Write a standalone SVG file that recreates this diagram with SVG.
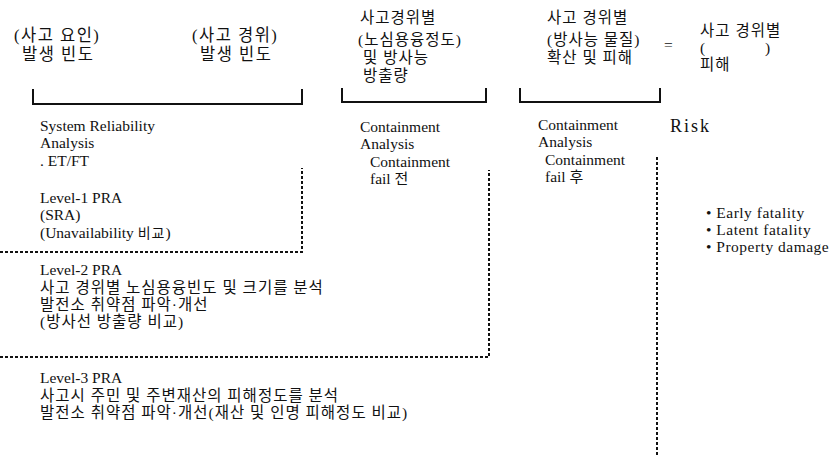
<svg xmlns="http://www.w3.org/2000/svg" width="840" height="457" viewBox="0 0 840 457">
<style>
.k{font-family:"Liberation Serif","Noto Sans CJK KR",serif;font-size:15.5px;fill:#111;letter-spacing:1px}
.h{font-family:"Liberation Serif","Noto Sans CJK KR",serif;font-size:16.5px;fill:#111;letter-spacing:1.5px}
.t{font-family:"Liberation Serif","Noto Sans CJK KR",serif;font-size:15.5px;fill:#111}
.r{font-family:"Liberation Serif","Noto Sans CJK KR",serif;font-size:18px;fill:#111;letter-spacing:2px}
.u{font-family:"Liberation Serif","Noto Sans CJK KR",serif;font-size:15.5px;fill:#111;letter-spacing:0.5px}
.b{fill:none;stroke:#111;stroke-width:2}
.d{fill:none;stroke:#111;stroke-width:2;stroke-dasharray:3 2}
</style>
<rect width="840" height="457" fill="#fff"/>
<g id="header1">
<text class="h" x="14" y="41">(사고 요인)</text>
<text class="h" x="22" y="60">발생 빈도</text>
<text class="h" x="192" y="41">(사고 경위)</text>
<text class="h" x="200" y="60">발생 빈도</text>
</g>
<g id="header2">
<text class="k" x="360" y="23">사고경위별</text>
<text class="k" x="358" y="45">(노심용융정도)</text>
<text class="k" x="363" y="63">및 방사능</text>
<text class="k" x="363" y="81">방출량</text>
</g>
<g id="header3">
<text class="k" x="547" y="23">사고 경위별</text>
<text class="k" x="547" y="45">(방사능 물질)</text>
<text class="k" x="547" y="63">확산 및 피해</text>
</g>
<g id="header4">
<text class="k" x="664" y="50">=</text>
<text class="k" x="700" y="36">사고 경위별</text>
<text class="k" x="700" y="53">(</text>
<text class="k" x="765" y="53">)</text>
<text class="k" x="700" y="70">피해</text>
</g>
<g id="connectors">
<path class="b" d="M33 89 V104 H302 V89"/>
<path class="b" d="M342 88 V102 H486 V88"/>
<path class="b" d="M520 88 V102 H660 V88"/>
<path class="d" d="M0 252 H302 V168"/>
<path class="d" d="M0 357 H489 V170"/>
<path class="d" d="M657 157 V457"/>
</g>
<g id="level1">
<text class="t" x="40" y="131">System Reliability</text>
<text class="t" x="40" y="148">Analysis</text>
<text class="t" x="40" y="166">. ET/FT</text>
<text class="t" x="40" y="203">Level-1 PRA</text>
<text class="t" x="40" y="220">(SRA)</text>
<text class="t" x="40" y="238">(Unavailability <tspan class="k" style="font-size:14px">비교</tspan>)</text>
</g>
<g id="containment-before">
<text class="t" x="360" y="132">Containment</text>
<text class="t" x="360" y="149">Analysis</text>
<text class="t" x="370" y="167">Containment</text>
<text class="t" x="370" y="184">fail <tspan style="font-size:15px">전</tspan></text>
</g>
<g id="containment-after">
<text class="t" x="538" y="130">Containment</text>
<text class="t" x="538" y="147">Analysis</text>
<text class="t" x="545" y="165">Containment</text>
<text class="t" x="545" y="182">fail <tspan style="font-size:15px">후</tspan></text>
</g>
<g id="risk">
<text class="r" x="670" y="132">Risk</text>
<text class="u" x="706" y="218">• Early fatality</text>
<text class="u" x="706" y="235">• Latent fatality</text>
<text class="u" x="706" y="252">• Property damage</text>
</g>
<g id="level2">
<text class="t" x="40" y="275">Level-2 PRA</text>
<text class="k" x="40" y="293">사고 경위별 노심용융빈도 및 크기를 분석</text>
<text class="k" x="40" y="310">발전소 취약점 파악·개선</text>
<text class="k" x="40" y="327">(방사선 방출량 비교)</text>
</g>
<g id="level3">
<text class="t" x="40" y="383">Level-3 PRA</text>
<text class="k" x="40" y="401">사고시 주민 및 주변재산의 피해정도를 분석</text>
<text class="k" x="40" y="418">발전소 취약점 파악·개선(재산 및 인명 피해정도 비교)</text>
</g>
</svg>
